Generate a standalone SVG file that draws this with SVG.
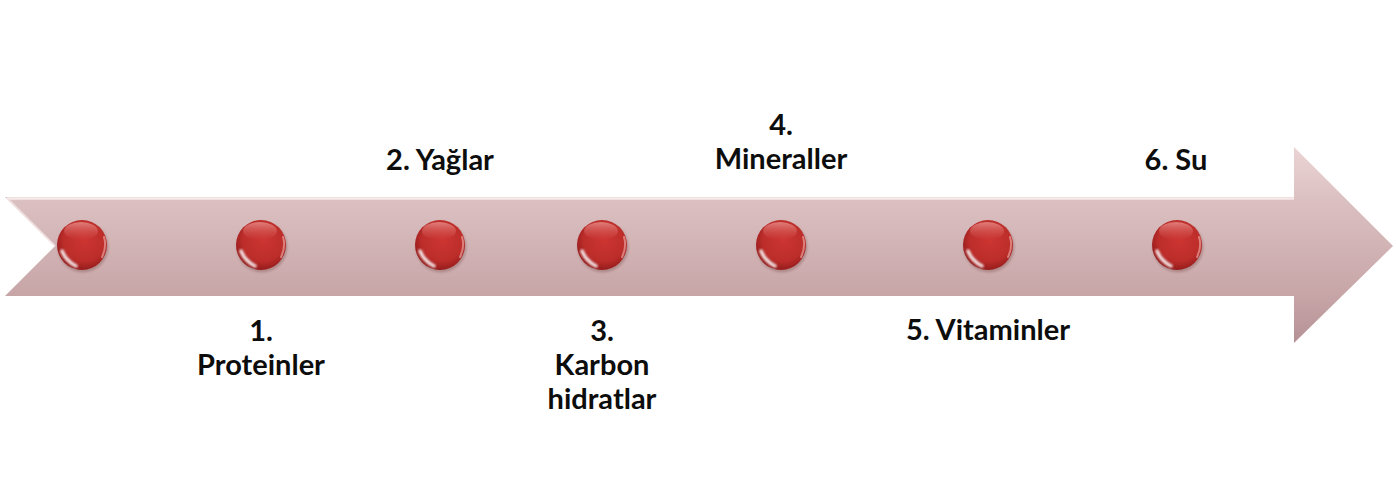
<svg xmlns="http://www.w3.org/2000/svg" width="1396" height="492" viewBox="0 0 1396 492">
  <defs>
    <linearGradient id="arrowFill" gradientUnits="userSpaceOnUse" x1="0" y1="147" x2="0" y2="343">
      <stop offset="0" stop-color="#ebd4d5"/>
      <stop offset="0.26" stop-color="#dcc1c2"/>
      <stop offset="0.76" stop-color="#c7a5a7"/>
      <stop offset="1" stop-color="#b59195"/>
    </linearGradient>
    <radialGradient id="beadFill" cx="0.55" cy="0.4" r="0.6">
      <stop offset="0" stop-color="#cc3532"/>
      <stop offset="0.7" stop-color="#bc2d2a"/>
      <stop offset="1" stop-color="#951c1c"/>
    </radialGradient>
    <linearGradient id="beadTop" x1="0" y1="0" x2="0" y2="1">
      <stop offset="0" stop-color="#f0a09c" stop-opacity="0.7"/>
      <stop offset="1" stop-color="#e06a66" stop-opacity="0"/>
    </linearGradient>
    <filter id="soft" x="-20%" y="-20%" width="140%" height="140%">
      <feGaussianBlur stdDeviation="1.2"/>
    </filter>
    <g id="bead">
      <circle cx="1" cy="2" r="25.5" fill="#7a4a4a" opacity="0.35" filter="url(#soft)"/>
      <circle cx="0" cy="0" r="25" fill="url(#beadFill)"/>
      <ellipse cx="-1" cy="-14" rx="17" ry="9" fill="url(#beadTop)"/>
      <path d="M -20 6 Q -16 16 -6 21" fill="none" stroke="#ffffff" stroke-width="3.5" stroke-linecap="round" opacity="0.85" filter="url(#soft)"/>
      <path d="M 22 -8 Q 25 2 20 12" fill="none" stroke="#f3b5b2" stroke-width="2" stroke-linecap="round" opacity="0.6"/>
    </g>
  </defs>
  <style>
    .lbl { font-family: Lato, "Open Sans", "Liberation Sans", sans-serif; font-weight: bold; font-size: 29px; fill: #0d0d0d; text-anchor: middle; }
  </style>

  <g id="connectors">
    <path id="timeline-arrow" d="M 5 197 L 1294 197 L 1294 147 L 1393 246 L 1294 343 L 1294 296 L 5 296 L 55 246 Z" fill="url(#arrowFill)"/>
    <path d="M 7 198.5 L 1294 198.5" stroke="#f7eaea" stroke-width="2.5" fill="none"/>
    <path d="M 8 199 L 55 246" stroke="#f3e4e4" stroke-width="2" fill="none" opacity="0.8"/>
  </g>

  <g id="node-start"><use href="#bead" x="82" y="245"/></g>

  <g id="node-1">
    <use href="#bead" x="261" y="245"/>
    <text class="lbl" x="261" y="341">1.</text>
    <text class="lbl" x="261" y="375">Proteinler</text>
  </g>

  <g id="node-2">
    <use href="#bead" x="440" y="245"/>
    <text class="lbl" x="440" y="170">2. Yağlar</text>
  </g>

  <g id="node-3">
    <use href="#bead" x="602" y="245"/>
    <text class="lbl" x="602" y="341">3.</text>
    <text class="lbl" x="602" y="375">Karbon</text>
    <text class="lbl" x="602" y="409">hidratlar</text>
  </g>

  <g id="node-4">
    <use href="#bead" x="781" y="245"/>
    <text class="lbl" x="781" y="135">4.</text>
    <text class="lbl" x="781" y="169">Mineraller</text>
  </g>

  <g id="node-5">
    <use href="#bead" x="988" y="245"/>
    <text class="lbl" x="988" y="340">5. Vitaminler</text>
  </g>

  <g id="node-6">
    <use href="#bead" x="1177" y="245"/>
    <text class="lbl" x="1176" y="170">6. Su</text>
  </g>
</svg>
